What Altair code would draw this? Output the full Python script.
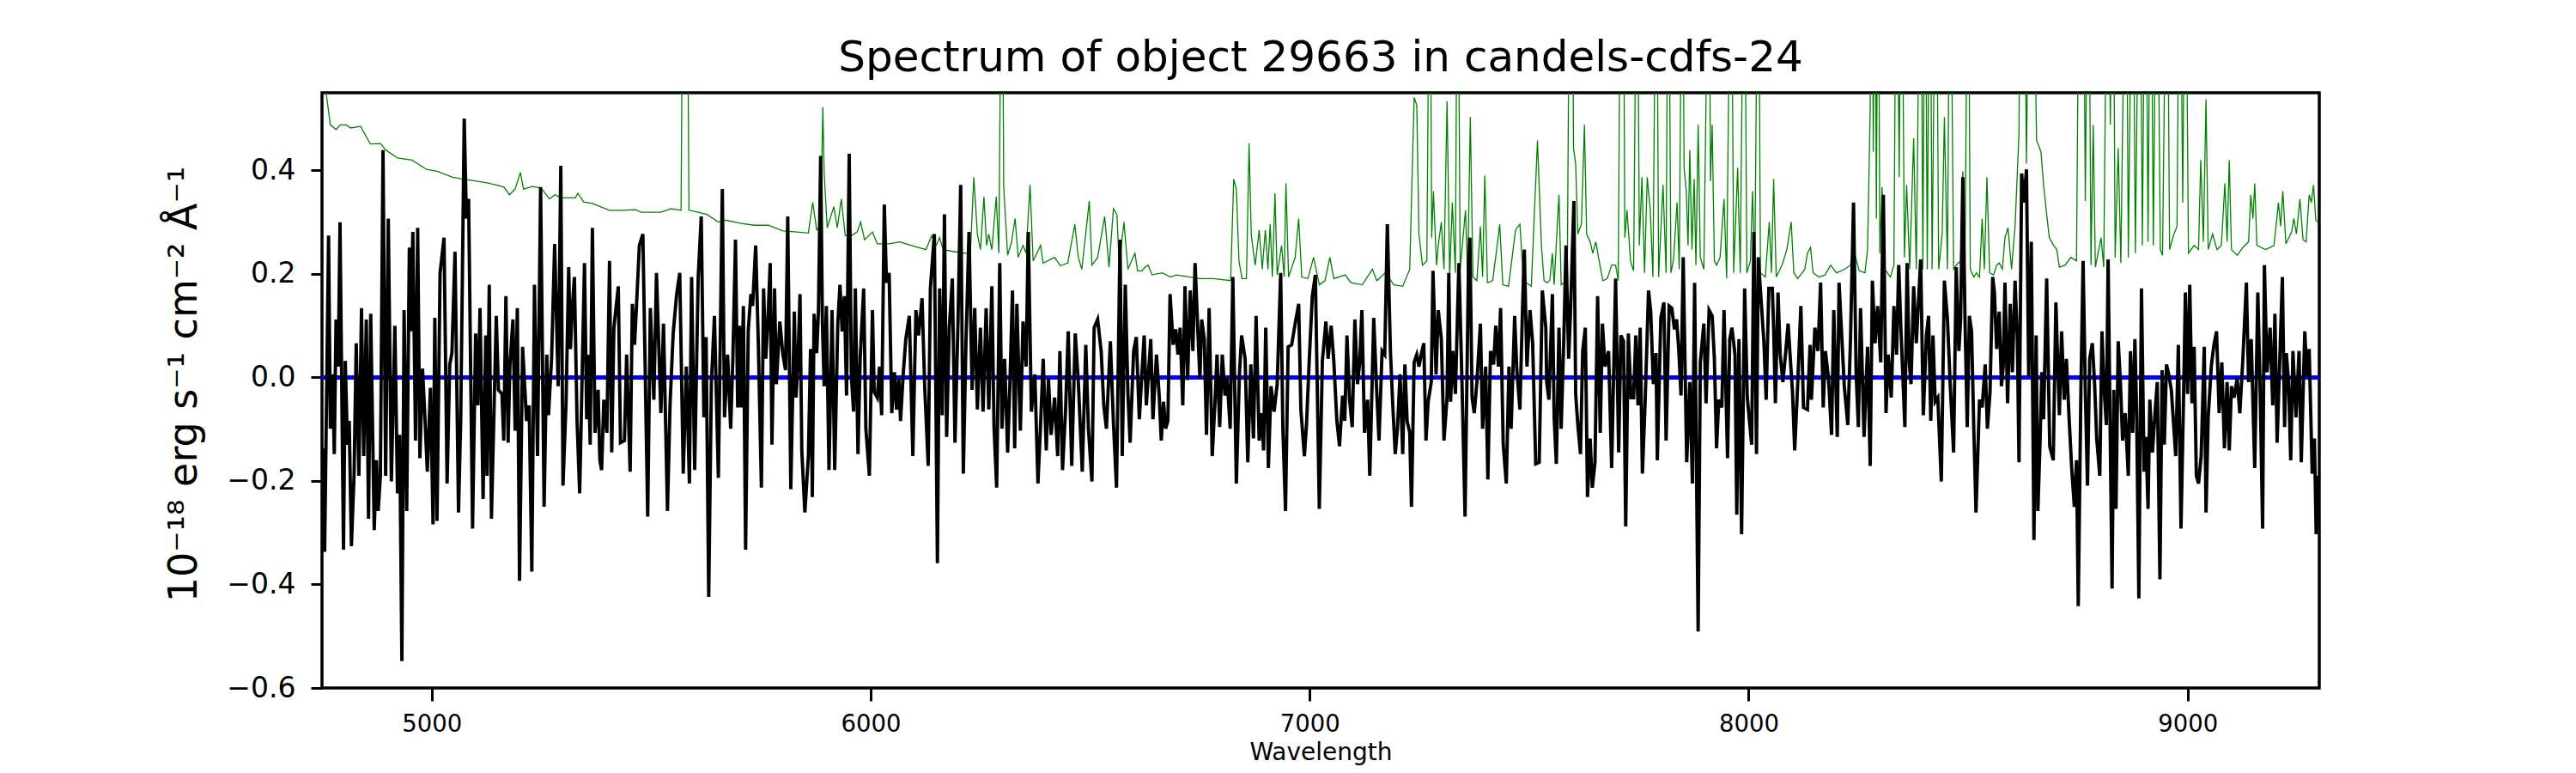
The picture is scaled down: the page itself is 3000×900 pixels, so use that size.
import altair as alt
import pandas as pd

flux_a = [(4752,-0.137),(4756,-0.337),(4765,0.274),(4769,-0.099),(4774,0.006),(4778,-0.148),(4782,0.112),(4787,0.021),(4791,0.300),(4799,-0.333),(4803,0.032),(4808,-0.130),(4812,-0.084),(4817,-0.326),(4823,-0.190),(4828,0.066),(4834,-0.190),(4840,0.134),(4845,-0.152),(4851,0.112),(4856,-0.273),(4861,0.123),(4869,-0.295),(4874,-0.160),(4878,-0.258),(4883,-0.190),(4889,0.439),(4895,-0.190),(4901,0.307),(4908,-0.201),(4916,0.100),(4922,-0.224),(4927,-0.111),(4932,-0.548),(4937,0.130),(4943,-0.258),(4949,0.251),(4952,0.089),(4957,0.281),(4963,-0.122),(4968,0.289),(4973,-0.156),(4979,0.017),(4984,-0.069),(4990,-0.182),(4997,-0.020),(5003,-0.284),(5007,0.115),(5012,-0.277),(5019,0.202),(5028,0.270),(5035,-0.205),(5041,0.025),(5046,0.047),(5053,0.243),(5061,-0.261),(5066,-0.084),(5074,0.500),(5079,0.307),(5084,0.345),(5093,-0.292),(5100,0.085),(5105,-0.054),(5110,0.134),(5117,-0.235),(5123,0.081),(5126,-0.190),(5131,0.179),(5136,-0.273),(5147,0.119),(5152,-0.024),(5160,-0.032),(5164,-0.122),(5169,0.157),(5174,-0.126),(5178,0.021),(5185,0.112),(5190,-0.103),(5195,0.134),(5200,-0.393),(5207,0.059),(5216,-0.084),(5222,-0.054),(5228,-0.375),(5234,0.179),(5241,-0.152),(5248,0.368),(5256,-0.250),(5262,0.044),(5266,-0.073),(5273,0.036),(5280,0.258),(5288,-0.017),(5294,0.409),(5299,-0.209),(5306,-0.050),(5312,0.213),(5316,0.055),(5320,0.130),(5325,0.194),(5331,-0.084),(5337,-0.224),(5348,0.221),(5353,-0.081),(5356,0.044),(5361,-0.130),(5366,0.289),(5372,-0.107),(5379,-0.024),(5383,-0.160),(5387,-0.179),(5392,-0.043),(5399,-0.107),(5405,0.225),(5410,-0.145),(5415,0.096),(5425,0.176),(5430,-0.126),(5439,-0.122),(5444,0.044),(5452,-0.182),(5457,0.142),(5462,0.063),(5466,0.130),(5473,0.255),(5481,0.277),(5492,-0.269),(5498,0.134),(5506,-0.043),(5512,0.202),(5522,-0.069),(5528,0.104),(5537,-0.258),(5543,-0.050),(5550,0.085),(5558,0.161),(5565,0.202),(5573,-0.186),(5580,0.021),(5587,-0.205),(5592,0.194),(5599,-0.179),(5607,0.194),(5614,0.311),(5620,-0.077),(5625,0.078),(5631,-0.424),(5637,-0.013),(5644,0.119),(5653,-0.194),(5662,0.364),(5667,-0.077),(5674,0.044)]

flux_b = [(5681,-0.099),(5686,0.036),(5692,0.266),(5697,-0.058),(5701,0.100),(5705,-0.058),(5710,0.138),(5715,-0.333),(5721,0.089),(5727,0.161),(5731,0.138),(5738,0.255),(5744,0.066),(5751,-0.213),(5756,0.172),(5761,0.036),(5766,0.112),(5771,0.221),(5775,-0.130),(5781,0.172),(5785,-0.013),(5793,0.108),(5800,0.044),(5806,0.014),(5811,0.311),(5818,-0.216),(5826,0.127),(5830,-0.039),(5834,0.025),(5839,0.161),(5843,-0.141),(5850,-0.261),(5858,-0.152),(5863,0.055),(5867,-0.231),(5871,0.123),(5877,0.047),(5881,0.130),(5886,0.428),(5890,0.104),(5894,-0.017),(5899,0.138),(5905,-0.179),(5912,0.130),(5918,-0.179),(5925,0.104),(5930,0.179),(5935,0.089),(5940,0.157),(5945,-0.035),(5951,0.432),(5956,0.002),(5961,-0.066),(5965,0.172),(5971,-0.148),(5976,0.036),(5984,0.172),(5989,-0.099),(5997,-0.190),(6004,0.130),(6008,-0.028),(6015,-0.039),(6020,0.021),(6025,-0.073),(6031,0.334),(6036,0.183),(6042,0.202),(6048,-0.069),(6054,0.010),(6059,-0.062),(6064,-0.002),(6068,-0.084),(6074,0.006),(6080,0.074),(6088,0.119),(6096,-0.152),(6103,0.130),(6109,0.081),(6117,0.153),(6123,-0.017),(6131,-0.171),(6136,0.172),(6145,0.277),(6152,-0.359),(6157,0.172),(6163,-0.073),(6168,0.315),(6173,-0.115),(6179,0.096),(6186,0.191),(6192,-0.126),(6199,0.112),(6205,0.372),(6211,-0.186),(6217,0.066),(6224,0.281),(6231,-0.024),(6237,0.134),(6243,-0.062),(6250,0.096),(6256,-0.066),(6263,0.134),(6269,-0.062),(6276,0.176),(6281,-0.096),(6287,-0.213),(6294,0.221),(6299,-0.099),(6305,0.036),(6312,-0.145),(6317,-0.017),(6323,0.168),(6328,-0.137),(6333,0.142),(6341,-0.103),(6347,0.108),(6354,0.021),(6359,0.281),(6366,-0.066),(6374,0.006),(6381,-0.205),(6387,-0.092),(6393,0.036),(6400,-0.141),(6405,-0.002),(6411,-0.111),(6419,-0.039),(6426,-0.152),(6431,0.051),(6437,-0.179),(6444,-0.062),(6450,0.089),(6458,-0.171),(6466,0.085),(6473,-0.009),(6482,-0.182),(6490,0.063),(6496,-0.099),(6504,-0.201),(6509,0.096),(6517,0.112),(6525,0.051),(6531,-0.054),(6537,-0.099),(6546,0.070),(6553,-0.088),(6560,-0.213),(6568,0.266),(6573,-0.152),(6580,0.179),(6586,-0.032),(6591,-0.126),(6599,0.051)]

flux_c = [(6605,0.078),(6612,-0.081),(6618,0.010),(6623,0.081),(6628,-0.054),(6632,-0.002),(6638,0.074),(6643,-0.081),(6651,0.044),(6657,-0.032),(6662,-0.122),(6667,-0.047),(6672,-0.099),(6677,-0.084),(6682,0.161),(6689,0.063),(6695,0.093),(6700,0.044),(6705,0.096),(6711,-0.054),(6716,0.176),(6722,-0.005),(6728,0.168),(6734,0.051),(6739,0.221),(6745,0.096),(6750,-0.002),(6754,0.112),(6760,0.074),(6765,-0.111),(6771,0.134),(6778,-0.152),(6784,-0.054),(6789,0.044),(6795,-0.096),(6801,0.044),(6807,-0.035),(6812,-0.002),(6819,-0.099),(6825,0.194),(6833,-0.205),(6840,0.006),(6845,0.081),(6853,0.036),(6859,-0.164),(6866,0.025),(6872,-0.118),(6878,0.119),(6885,-0.122),(6891,-0.069),(6895,-0.141),(6900,0.096),(6906,-0.175),(6912,-0.017),(6919,-0.066),(6926,-0.013),(6934,0.202),(6939,-0.099),(6945,-0.258),(6951,0.059),(6959,0.063),(6967,0.104),(6975,0.142),(6980,-0.062),(6988,-0.152),(6993,-0.088),(6999,0.032),(7006,0.157),(7013,0.198),(7022,-0.254),(7029,0.032),(7037,0.108),(7042,0.036),(7049,0.100),(7055,0.032),(7062,-0.084),(7068,-0.133),(7075,-0.035),(7080,-0.084),(7085,0.081),(7091,-0.043),(7097,-0.096),(7103,0.112),(7109,-0.013),(7114,0.029),(7119,0.130),(7125,-0.107),(7132,-0.043),(7137,-0.190),(7146,0.115),(7152,-0.013),(7158,-0.122),(7165,0.051),(7171,0.044),(7177,0.296),(7184,0.051),(7189,-0.047),(7195,-0.148),(7200,-0.099),(7206,0.006),(7212,-0.148),(7217,0.025),(7222,-0.084),(7228,-0.107),(7232,-0.250),(7238,0.029),(7244,0.044),(7249,0.021),(7254,0.044),(7260,0.066),(7265,-0.122),(7270,-0.047),(7277,-0.009),(7281,0.206),(7288,0.006),(7293,0.130),(7300,0.074),(7306,-0.122),(7313,-0.039),(7317,0.202),(7321,-0.047),(7326,0.051),(7332,-0.032),(7340,0.221),(7347,-0.009),(7354,-0.269),(7362,0.225),(7365,0.270),(7370,-0.039),(7375,-0.069),(7381,-0.009),(7389,0.104),(7394,-0.099),(7401,0.021),(7406,-0.197),(7412,0.051),(7419,0.025),(7424,0.100),(7430,0.021),(7435,0.134),(7441,-0.130),(7448,-0.205),(7454,0.021),(7459,-0.099),(7467,0.119),(7472,0.014),(7479,-0.062),(7484,0.104),(7489,0.247),(7495,0.021),(7502,0.130),(7508,0.066),(7515,-0.167),(7523,-0.164),(7530,0.168)]

flux_d = [(7538,0.096),(7540,-0.009),(7545,-0.043),(7553,0.161),(7557,-0.077),(7562,-0.167),(7568,0.096),(7573,-0.099),(7579,0.074),(7584,0.255),(7590,0.036),(7594,0.119),(7602,0.341),(7606,-0.032),(7611,-0.092),(7617,-0.148),(7622,0.051),(7628,0.096),(7633,-0.231),(7639,-0.118),(7644,-0.213),(7650,-0.164),(7656,0.157),(7662,-0.107),(7667,0.104),(7673,0.021),(7681,0.051),(7688,-0.175),(7697,0.191),(7704,-0.145),(7709,0.081),(7715,0.070),(7720,-0.288),(7726,0.085),(7732,-0.039),(7738,-0.039),(7743,0.081),(7748,-0.054),(7753,0.096),(7758,-0.186),(7764,-0.054),(7772,0.168),(7777,0.127),(7783,-0.013),(7789,0.047),(7792,-0.160),(7800,0.115),(7807,0.145),(7812,-0.122),(7819,0.138),(7825,0.134),(7831,0.093),(7836,0.112),(7841,0.051),(7846,-0.035),(7851,0.232),(7859,-0.164),(7866,-0.009),(7872,-0.205),(7877,0.183),(7885,-0.491),(7890,0.029),(7898,0.104),(7903,-0.050),(7910,0.130),(7917,0.119),(7922,0.036),(7927,-0.137),(7932,-0.043),(7939,-0.058),(7944,0.130),(7952,-0.156),(7957,0.074),(7962,0.096),(7969,0.044),(7973,-0.265),(7978,0.074),(7984,-0.303),(7991,0.172),(7997,-0.039),(8007,-0.130),(8012,0.281),(8018,-0.148),(8022,0.232),(8030,0.130),(8035,0.066),(8040,-0.043),(8046,0.172),(8054,0.172),(8057,0.096),(8061,-0.050),(8067,0.164),(8072,0.044),(8078,-0.009),(8084,0.044),(8090,0.104),(8095,0.036),(8100,-0.028),(8105,-0.141),(8112,-0.009),(8119,0.138),(8125,-0.058),(8134,-0.062),(8140,0.063),(8143,-0.043),(8151,0.096),(8158,0.051),(8164,0.183),(8170,-0.058),(8175,0.051),(8182,-0.002),(8189,-0.111),(8194,0.130),(8202,-0.115),(8206,0.183),(8213,0.066),(8218,-0.017),(8226,-0.092),(8232,0.070),(8239,0.338),(8245,0.006),(8250,-0.096),(8255,0.134),(8263,-0.115),(8271,0.059),(8277,-0.171),(8282,0.187),(8288,0.066),(8294,0.138),(8301,0.029),(8307,0.353),(8313,-0.069),(8318,0.044),(8325,-0.039),(8331,0.138),(8337,0.044),(8342,0.217),(8347,0.093),(8356,-0.096),(8361,0.221),(8366,0.029),(8370,-0.013),(8376,0.176),(8382,0.066),(8392,0.228),(8398,-0.073),(8405,0.081),(8410,0.119),(8415,-0.084),(8420,0.081),(8425,-0.047),(8431,-0.039),(8439,-0.201),(8446,0.187),(8453,0.112),(8459,-0.009)]

flux_e = [(8467,-0.145),(8473,0.213),(8479,0.051),(8483,0.112),(8488,0.387),(8493,0.112),(8498,-0.096),(8503,0.119),(8508,0.089),(8513,-0.099),(8518,-0.261),(8526,-0.043),(8532,-0.058),(8539,0.025),(8544,-0.099),(8550,-0.028),(8556,0.194),(8560,0.164),(8565,0.055),(8571,0.127),(8576,-0.017),(8580,0.021),(8584,0.183),(8590,-0.050),(8596,0.142),(8601,0.010),(8607,0.187),(8612,0.081),(8616,-0.164),(8622,0.394),(8627,0.338),(8633,0.402),(8638,0.002),(8644,0.262),(8650,-0.314),(8655,0.081),(8659,-0.258),(8664,-0.122),(8668,0.010),(8672,-0.081),(8679,0.191),(8686,-0.133),(8694,-0.160),(8700,0.145),(8708,-0.073),(8713,0.089),(8719,-0.043),(8724,0.036),(8730,-0.077),(8736,-0.175),(8742,-0.250),(8747,-0.160),(8751,-0.442),(8757,-0.024),(8762,0.225),(8767,-0.024),(8772,-0.209),(8777,0.036),(8783,0.066),(8788,-0.009),(8793,-0.118),(8800,-0.190),(8805,0.089),(8810,-0.024),(8815,-0.092),(8819,0.228),(8828,-0.408),(8832,-0.024),(8837,-0.254),(8842,0.070),(8847,-0.009),(8852,-0.122),(8858,-0.069),(8865,-0.190),(8870,0.051),(8875,-0.107),(8880,0.074),(8884,-0.069),(8889,-0.427),(8895,0.172),(8901,-0.182),(8905,-0.115),(8910,-0.254),(8914,-0.043),(8920,-0.145),(8927,-0.054),(8931,-0.009),(8937,-0.390),(8942,0.014),(8947,-0.130),(8952,0.025),(8957,0.006),(8963,-0.024),(8968,-0.088),(8973,-0.152),(8979,0.063),(8985,-0.292),(8991,-0.032),(8995,0.164),(9000,-0.032),(9005,0.179),(9010,-0.050),(9015,0.059),(9020,-0.190),(9025,-0.205),(9031,-0.152),(9038,0.059),(9042,-0.261),(9047,-0.077),(9054,0.021),(9060,0.063),(9066,0.089),(9072,-0.069),(9078,0.029),(9084,-0.137),(9090,-0.009),(9095,-0.141),(9100,-0.017),(9106,-0.039),(9113,-0.002),(9119,-0.069),(9126,0.036),(9134,0.183),(9139,-0.009),(9145,0.074),(9153,-0.175),(9160,0.164),(9165,-0.009),(9171,-0.292),(9175,0.217),(9181,0.010),(9188,0.096),(9194,-0.054),(9199,0.123),(9204,-0.126),(9209,0.006),(9216,0.194),(9221,-0.096),(9225,0.047),(9230,-0.009),(9235,-0.160),(9240,0.051),(9247,-0.077),(9254,0.051),(9259,-0.164),(9267,0.089),(9272,0.002),(9277,0.055),(9284,-0.186),(9289,-0.118),(9293,-0.303),(9297,-0.190)]

# ---- noise spectrum (green); sky-line spikes that leave the frame are given 1.0 ----
noise_a = [(4751,0.600),(4759,0.552),(4769,0.488),(4782,0.479),(4792,0.488),(4805,0.488),(4815,0.482),(4838,0.485),(4860,0.451),(4883,0.452),(4896,0.439),(4922,0.424),(4955,0.420),(4988,0.402),(5014,0.398),(5046,0.387),(5066,0.384),(5105,0.379),(5131,0.375),(5164,0.368),(5177,0.353),(5190,0.364),(5202,0.396),(5209,0.364),(5229,0.369),(5249,0.366),(5268,0.345),(5281,0.353),(5294,0.347),(5327,0.347),(5333,0.356),(5346,0.339),(5366,0.336),(5405,0.323),(5431,0.323),(5464,0.324),(5477,0.319),(5522,0.319),(5545,0.326),(5568,0.323),(5573,1.0),(5581,1.0),(5586,0.323),(5607,0.319),(5627,0.315),(5653,0.300)]

noise_b = [(5669,0.304),(5702,0.298),(5734,0.294),(5767,0.294),(5800,0.283),(5832,0.281),(5858,0.279),(5868,0.338),(5877,0.285),(5886,0.292),(5891,0.522),(5894,0.394),(5901,0.289),(5916,0.330),(5924,0.289),(5933,0.345),(5942,0.274),(5956,0.274),(5969,0.281),(5977,0.300),(5986,0.266),(6004,0.281),(6015,0.258),(6041,0.258),(6067,0.262),(6093,0.255),(6126,0.247),(6139,0.274),(6149,0.255),(6157,0.270),(6165,0.247),(6191,0.243),(6217,0.240),(6227,0.240),(6235,0.387),(6243,0.277),(6250,0.247),(6258,0.349),(6264,0.255),(6269,0.277),(6276,0.247),(6286,0.349),(6292,0.240),(6299,1.0),(6303,0.368),(6312,0.236),(6321,0.262),(6329,0.307),(6336,0.232),(6347,0.255),(6354,0.240),(6363,0.372),(6370,0.225),(6387,0.255),(6393,0.221),(6419,0.232),(6432,0.216),(6449,0.221),(6465,0.296),(6473,0.232),(6481,0.209),(6498,0.341),(6504,0.217),(6517,0.232),(6533,0.311),(6543,0.213),(6553,0.326),(6561,0.315),(6566,0.217),(6577,0.300),(6586,0.209),(6602,0.240)]

noise_c = [(6608,0.206),(6618,0.206),(6625,0.213),(6632,0.217),(6641,0.198),(6664,0.202),(6683,0.194),(6696,0.198),(6729,0.194),(6748,0.191),(6781,0.191),(6820,0.187),(6827,0.383),(6833,0.364),(6839,0.225),(6846,0.191),(6856,0.191),(6862,0.452),(6867,0.274),(6876,0.217),(6885,0.285),(6892,0.209),(6899,0.285),(6905,0.209),(6910,0.296),(6915,0.194),(6921,0.356),(6926,0.198),(6936,0.255),(6942,0.194),(6946,0.375),(6952,0.194),(6967,0.232),(6975,0.307),(6982,0.194),(6996,0.191),(7009,0.232),(7022,0.179),(7035,0.187),(7046,0.232),(7055,0.191),(7081,0.198),(7094,0.183),(7120,0.179),(7143,0.209),(7153,0.187),(7172,0.202),(7192,0.179),(7212,0.176),(7228,0.209),(7238,0.541),(7244,0.526),(7249,0.277),(7257,0.217),(7267,0.225),(7274,1.0),(7278,0.270),(7282,0.360),(7289,0.217),(7293,0.255),(7300,0.300),(7306,0.209),(7313,0.534),(7319,0.194),(7325,0.338),(7332,0.202),(7337,1.0),(7343,0.209),(7355,0.323),(7360,0.194),(7366,0.503),(7372,0.194),(7381,0.187),(7389,0.292),(7394,0.194),(7399,0.390),(7405,0.183),(7417,0.187),(7426,0.247),(7433,0.296),(7440,0.179),(7453,0.176),(7469,0.285),(7479,0.296),(7487,0.187),(7505,0.176),(7519,0.458),(7528,0.255)]

noise_d = [(7534,0.187),(7541,0.183),(7547,0.187),(7553,0.240),(7557,0.179),(7568,0.353),(7573,0.179),(7580,0.183),(7587,0.202),(7593,1.0),(7598,1.0),(7601,0.443),(7606,0.413),(7611,0.277),(7619,0.296),(7626,0.488),(7631,0.277),(7639,0.262),(7645,0.240),(7652,0.262),(7658,0.232),(7668,0.187),(7678,0.191),(7688,0.217),(7697,0.217),(7703,0.187),(7709,1.0),(7714,1.0),(7718,0.270),(7723,0.323),(7731,0.225),(7738,0.206),(7746,1.0),(7751,0.255),(7757,0.387),(7763,0.202),(7769,0.387),(7776,0.323),(7782,0.194),(7790,1.0),(7795,0.194),(7805,0.372),(7812,0.202),(7817,1.0),(7823,0.202),(7829,0.228),(7837,0.338),(7842,0.209),(7849,1.0),(7853,0.405),(7858,0.360),(7862,0.255),(7866,0.439),(7871,0.247),(7876,0.383),(7880,0.217),(7885,0.488),(7890,0.232),(7898,0.209),(7910,1.0),(7913,0.379),(7917,0.488),(7922,0.225),(7927,0.217),(7935,0.232),(7944,0.345),(7950,0.191),(7960,1.0),(7966,0.202),(7975,0.405),(7981,0.202),(7990,1.0),(7996,0.202),(8004,0.225),(8009,0.360),(8014,0.202),(8022,1.0),(8027,0.202),(8038,0.194),(8047,0.300),(8052,0.202),(8057,0.383),(8063,0.194),(8076,0.217),(8087,0.247),(8097,0.300),(8103,0.202),(8112,0.191),(8128,0.209),(8134,0.240),(8141,0.251),(8147,0.202),(8160,0.194),(8174,0.198),(8187,0.217),(8200,0.202),(8219,0.209),(8232,0.217),(8239,0.247),(8252,0.206),(8265,0.202),(8271,0.247),(8277,0.518),(8281,1.0),(8284,0.436),(8288,1.0),(8291,0.307),(8295,1.0),(8299,0.240),(8304,0.368),(8310,0.209),(8323,0.194),(8331,0.217),(8337,1.0),(8343,0.387),(8348,1.0),(8355,0.232),(8360,0.372),(8367,0.209),(8376,0.462),(8382,0.209),(8392,1.0),(8397,0.209),(8402,1.0),(8407,0.209),(8413,1.0),(8418,0.209),(8427,1.0),(8433,0.209),(8441,0.277),(8446,0.503),(8453,0.209),(8459,1.0)]

noise_e = [(8467,0.209),(8473,0.217),(8483,0.225),(8488,0.398),(8493,0.225),(8500,1.0),(8505,0.209),(8513,0.194),(8519,0.202),(8526,0.194),(8532,0.307),(8537,0.209),(8543,0.387),(8549,0.202),(8558,0.198),(8565,0.217),(8571,0.221),(8578,0.209),(8584,0.270),(8591,0.289),(8599,0.209),(8607,0.292),(8616,0.473),(8620,1.0),(8627,1.0),(8633,0.413),(8640,1.0),(8646,1.0),(8656,0.458),(8666,0.436),(8672,0.372),(8679,0.315),(8685,0.270),(8695,0.255),(8702,0.247),(8708,0.213),(8721,0.217),(8734,0.232),(8747,0.225),(8754,1.0),(8762,1.0),(8767,0.341),(8774,1.0),(8780,0.217),(8785,0.488),(8790,0.213),(8803,0.270),(8809,0.213),(8818,1.0),(8824,0.488),(8830,1.0),(8835,0.232),(8842,0.443),(8848,0.221),(8860,1.0),(8865,0.232),(8875,1.0),(8881,0.240),(8891,1.0),(8897,0.255),(8904,1.0),(8910,0.262),(8916,1.0),(8922,0.255),(8930,1.0),(8938,0.247),(8943,0.236),(8953,1.0),(8959,0.247),(8969,0.277),(8976,0.292),(8982,1.0),(8989,0.338),(8995,1.0),(9002,0.240),(9015,0.255),(9025,0.247),(9030,0.420),(9036,0.262),(9042,0.537),(9047,0.247),(9057,0.277),(9067,0.247),(9077,0.255),(9085,0.375),(9090,0.262),(9095,0.420),(9100,0.247),(9113,0.236),(9126,0.251),(9139,0.262),(9144,0.353),(9149,0.307),(9153,0.375),(9158,0.255),(9178,0.247),(9197,0.255),(9207,0.338),(9212,0.292),(9217,0.360),(9224,0.258),(9237,0.281),(9242,0.307),(9248,0.277),(9256,0.345),(9263,0.266),(9270,0.262),(9277,0.353),(9282,0.338),(9287,0.372),(9292,0.304),(9297,0.300)]

x_ticks = [5000, 6000, 7000, 8000, 9000]
y_ticks = [-0.6, -0.4, -0.2, 0.0, 0.2, 0.4]
x_domain = [4750, 9300]
y_domain = [-0.6, 0.55]
title_text = "Spectrum of object 29663 in candels-cdfs-24"
x_title = "Wavelength"
y_title = "10\u207b\u00b9\u2078 erg s\u207b\u00b9 cm\u207b\u00b2 \u00c5\u207b\u00b9"

flux_df = pd.DataFrame(flux_a + flux_b + flux_c + flux_d + flux_e, columns=["wl", "flux"])
noise_df = pd.DataFrame(noise_a + noise_b + noise_c + noise_d + noise_e, columns=["wl", "flux"])
title_df = pd.DataFrame({"t": [title_text]})

FONT = "DejaVu Sans"
W, H = 2326, 693

xscale = alt.Scale(domain=x_domain, nice=False, zero=False)
yscale = alt.Scale(domain=y_domain, nice=False, zero=False)

xaxis = alt.Axis(values=x_ticks, format="d", title=x_title, grid=False, domain=False,
                 tickSize=15, tickWidth=3, tickColor="black",
                 labelFont=FONT, labelFontSize=27.5, labelColor="black", labelPadding=13,
                 titleFont=FONT, titleFontSize=28, titleFontWeight="normal", titleColor="black",
                 titleBaseline="alphabetic", titleY=83)
yaxis = alt.Axis(values=y_ticks, format=".1f", title=y_title, grid=False, domain=False,
                 tickSize=13, tickWidth=3, tickColor="black",
                 labelFont=FONT, labelFontSize=33, labelColor="black", labelPadding=18,
                 titleFont=FONT, titleFontSize=46, titleFontWeight="normal", titleColor="black",
                 titleBaseline="alphabetic", titleX=-147, titleY=339, titleAngle=-90)

noise = alt.Chart(noise_df).mark_line(color="#008000", strokeWidth=1.3, clip=True).encode(
    x=alt.X("wl:Q", scale=xscale, axis=xaxis),
    y=alt.Y("flux:Q", scale=yscale, axis=yaxis),
)
zero = alt.Chart(flux_df).mark_rule(color="#0000ff", strokeWidth=5).encode(
    y=alt.datum(0.0),
    x=alt.value(0),
    x2=alt.value(W),
)
spec = alt.Chart(flux_df).mark_line(color="black", strokeWidth=3.9, clip=True).encode(
    x=alt.X("wl:Q", scale=xscale),
    y=alt.Y("flux:Q", scale=yscale),
)
title = alt.Chart(title_df).mark_text(font=FONT, fontSize=50, color="black", align="center",
                                       baseline="alphabetic").encode(
    text="t:N",
    x=alt.value(W / 2),
    y=alt.value(-25),
)

chart = alt.layer(noise, zero, spec, title).properties(
    width=W, height=H,
    autosize=alt.AutoSizeParams(type="none"),
    padding={"left": 367, "top": 100, "right": 280, "bottom": 91},
    background="white",
).configure_view(stroke="black", strokeWidth=3.5)

chart.save("out.html", embed_options={"renderer": "svg", "actions": False})
